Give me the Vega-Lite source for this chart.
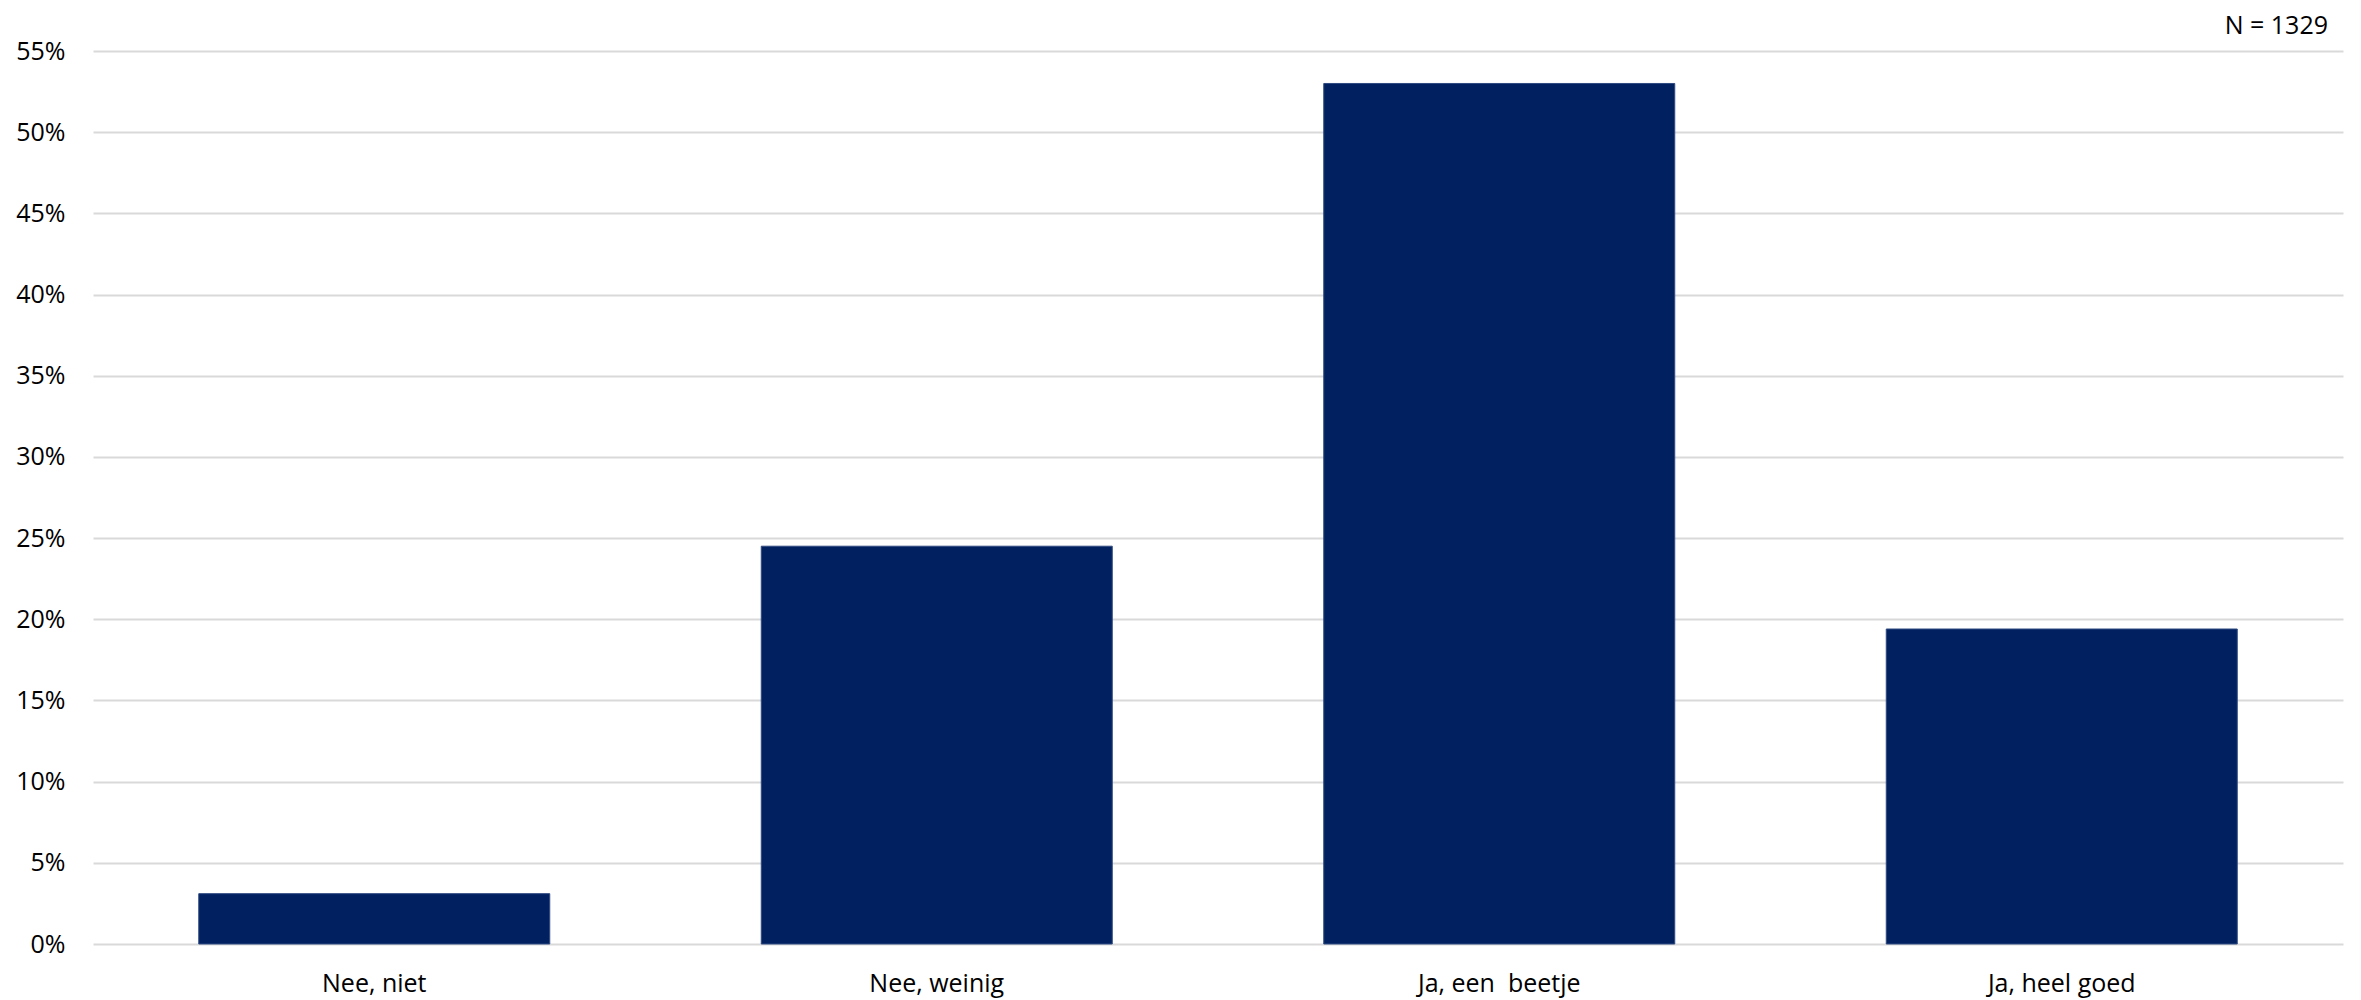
{
  "$schema": "https://vega.github.io/schema/vega-lite/v6.json",
  "autosize": {"type": "none"},
  "width": 2250,
  "height": 893,
  "padding": {"left": 93, "top": 51, "right": 18, "bottom": 56},
  "background": "white",
  "title": {
    "text": "N = 1329",
    "anchor": "end",
    "frame": "group",
    "font": "Open Sans",
    "fontSize": 25,
    "fontWeight": "normal",
    "color": "#000000",
    "dx": -15,
    "offset": 0
  },
  "data": {
    "values": [
      {"antwoord": "Nee, niet", "aandeel": 0.031},
      {"antwoord": "Nee, weinig", "aandeel": 0.245},
      {"antwoord": "Ja, een\u00a0 beetje", "aandeel": 0.530},
      {"antwoord": "Ja, heel goed", "aandeel": 0.194}
    ]
  },
  "mark": {"type": "bar", "color": "#012060", "stroke": "#2f4a80", "strokeWidth": 1},
  "encoding": {
    "x": {
      "field": "antwoord",
      "type": "nominal",
      "sort": null,
      "scale": {"paddingInner": 0.376, "paddingOuter": 0.188},
      "axis": {
        "title": null,
        "labelAngle": 0,
        "labelFont": "Open Sans",
        "labelFontSize": 25,
        "labelColor": "#000000",
        "labelPadding": 27,
        "ticks": false,
        "domain": false,
        "grid": false
      }
    },
    "y": {
      "field": "aandeel",
      "type": "quantitative",
      "scale": {"domain": [0, 0.55], "nice": false},
      "axis": {
        "title": null,
        "values": [0, 0.05, 0.1, 0.15, 0.2, 0.25, 0.3, 0.35, 0.4, 0.45, 0.5, 0.55],
        "format": ".0%",
        "labelFont": "Open Sans",
        "labelFontSize": 25,
        "labelColor": "#000000",
        "labelPadding": 28,
        "ticks": false,
        "domain": false,
        "grid": true,
        "gridColor": "#d9d9d9",
        "gridWidth": 2
      }
    }
  },
  "config": {"view": {"stroke": null}}
}
